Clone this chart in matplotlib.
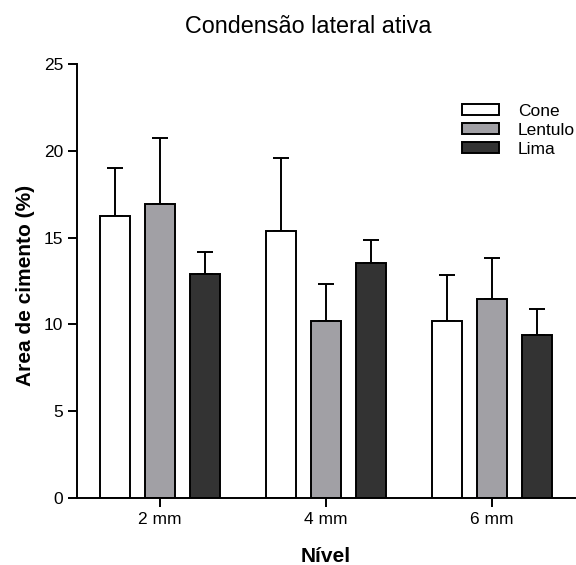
import numpy as np
import matplotlib
matplotlib.use('Agg')
import matplotlib.pyplot as plt

plt.rcParams['font.family'] = 'Liberation Sans'

# data
niveis = ['2 mm', '4 mm', '6 mm']
grupos = ['Cone', 'Lentulo', 'Lima']
cone = [16.25, 15.4, 10.2]
cone_err = [2.75, 4.2, 2.65]
lentulo = [16.95, 10.2, 11.45]
lentulo_err = [3.8, 2.1, 2.4]
lima = [12.9, 13.55, 9.4]
lima_err = [1.25, 1.3, 1.5]

cores = ['white', '#a1a0a5', '#333333']
lw = 1.4

fig = plt.figure(figsize=(5.76, 5.65), dpi=100)
ax = fig.add_axes([77 / 576, 1 - 498 / 565, 498 / 576, 434 / 565])

x = np.arange(len(niveis))
largura = 0.181
passo = 0.271
series = [(cone, cone_err), (lentulo, lentulo_err), (lima, lima_err)]
for i, (vals, errs) in enumerate(series):
    pos = x + (i - 1) * passo
    ax.bar(pos, vals, width=largura, color=cores[i], edgecolor='black',
           linewidth=lw, label=grupos[i], zorder=2)
    ax.errorbar(pos, vals, yerr=[np.zeros(len(errs)), errs], fmt='none',
                ecolor='black', elinewidth=lw, capsize=5.6, capthick=lw, zorder=1)

ax.set_xlim(-0.5, 2.5)
ax.set_ylim(0, 25)
ax.set_yticks([0, 5, 10, 15, 20, 25])
ax.set_xticks(x)
ax.set_xticklabels(niveis)
ax.spines['top'].set_visible(False)
ax.spines['right'].set_visible(False)
ax.spines['left'].set_linewidth(lw)
ax.spines['bottom'].set_linewidth(lw)
ax.tick_params(axis='both', direction='out', length=6.3, width=lw, labelsize=12.5, pad=3.6)

fig.text(308 / 576, 1 - 33 / 565, 'Condensão lateral ativa', fontsize=16.8,
         ha='center', va='baseline')
ax.set_ylabel('Area de cimento (%)', fontsize=15, fontweight='bold', va='center')
ax.yaxis.set_label_coords(-0.103, 0.49)
ax.set_xlabel('Nível', fontsize=15, fontweight='bold', va='center')
ax.xaxis.set_label_coords(0.5, -0.1348)

ax.legend(loc='upper left', bbox_to_anchor=(462 / 576, 1 - 104 / 565),
          bbox_transform=fig.transFigure, frameon=False,
          fontsize=12.5, handlelength=2.13, handleheight=0.58, labelspacing=0.22,
          handletextpad=1.1, borderpad=0, borderaxespad=0)

fig.savefig('out.png', dpi=100)
